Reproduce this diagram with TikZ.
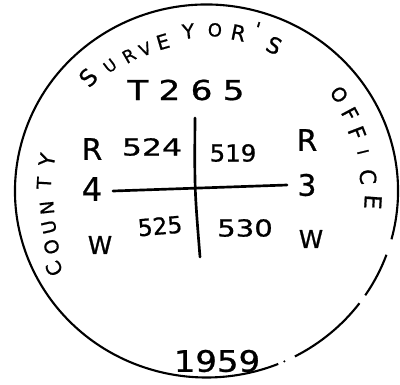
\documentclass[tikz,border=0pt]{standalone}
\usepackage{fontspec}
\newfontfamily\hand[FakeBold=0.8]{DejaVu Sans}
\begin{document}
\begin{tikzpicture}[x=0.025cm,y=0.025cm,
  ring/.style={line width=1.5pt},
  rule/.style={line width=1.9pt, line cap=round},
  lbl/.style={inner sep=0pt, font=\hand\fontsize{16.6}{18}\selectfont},
  big/.style={inner sep=0pt, font=\hand\fontsize{21}{24}\selectfont},
  wlbl/.style={inner sep=0pt, font=\hand\fontsize{17.5}{20}\selectfont},
  arcl/.style={inner sep=0pt, font=\hand\fontsize{15}{17}\selectfont},
]
\useasboundingbox (0,0) rectangle (400,384);
\coordinate (C) at (206.5,193);
% stamp ring
\draw[ring] (C) ++(-15:191.5 and 186.5) arc[start angle=-15,end angle=292,x radius=191.5,y radius=186.5];
\draw[ring] (C) ++(-20:191.5 and 186.5) arc[start angle=-20,end angle=-34,x radius=191.5,y radius=186.5];
\draw[ring] (C) ++(-37:191.5 and 186.5) arc[start angle=-37,end angle=-62.5,x radius=191.5,y radius=186.5];
\fill (C) ++(-66:191.5 and 186.5) circle[radius=1.2];
% curved texts
\foreach \c/\a/\r/\s in {S/136.2/164/1.1, U/127.6/158/0.76, R/119.8/156/0.83, V/113.4/154.5/0.8, E/106.3/155.5/0.95, Y/96.5/160.8/0.95, O/87/161.3/0.85, R/78.6/161.3/1.0, '/72.6/170/0.9, S/65.1/160.5/1.05}
  \path (C) ++(\a:\r) node[arcl, scale=\s, rotate=\a-90] {\c};
\foreach \c/\a/\r/\s in {C/207/171/0.95, O/199.8/164.7/0.9, U/192.9/161.6/0.88, N/186/160.4/0.88, T/177.2/162.7/0.92, Y/169/162.5/1.0}
  \path (C) ++(\a:\r) node[arcl, scale=\s, rotate=\a-90] {\c};
\foreach \c/\a/\r/\s in {O/36/164/0.92, F/28.2/162.9/1.0, F/21.1/161.3/1.05, I/14/161.3/0.75, C/5/162.1/1.05, E/-3.8/166.9/1.1}
  \path (C) ++(\a:\r) node[arcl, scale=\s, rotate=\a-90] {\c};
% township number
\node[inner sep=0pt, anchor=base west, xscale=1.25, font=\hand\fontsize{19.5}{22}\selectfont\addfontfeature{LetterSpace=30}] (twp) at (127,284) {T265};
% range / section labels
\node[big] (rl) at (92,235) {R};
\node[lbl, xscale=1.35] (s524) at (152,237) {524};
\node[lbl, xscale=1.05] (s519) at (233,231) {519};
\node[big] (rr) at (307,244) {R};
\node[big, font=\hand\fontsize{23}{26}\selectfont] (four) at (92,195) {4};
\node[big] (three) at (307,199) {3};
\node[lbl, rotate=5] (s525) at (160,158) {525};
\node[lbl, xscale=1.25] (s530) at (245,156) {530};
\node[wlbl] (wl) at (100,139) {W};
\node[wlbl] (wr) at (311,145) {W};
\node[big, xscale=1.15] (yr) at (217,23) {1959};
% section lines
\coordinate (h1) at (113,193);
\coordinate (h2) at (287,199);
\draw[rule] (h1) -- (h2);
\coordinate (v1) at (195,266);
\coordinate (v2) at (200,127);
\draw[rule] (v1) .. controls (194.5,195.5) .. (v2);
\end{tikzpicture}
\end{document}
